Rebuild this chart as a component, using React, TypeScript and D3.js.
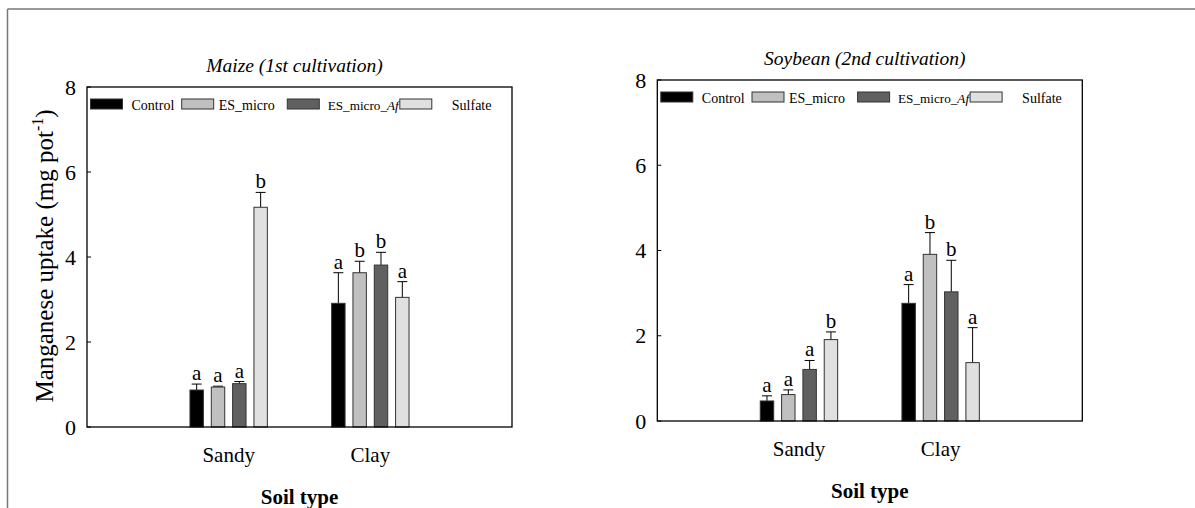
import React from "react";
import * as d3 from "d3";

// soil types and treatments
const soils = ["Sandy", "Clay"];
const treatments = ["Control", "ES_micro", "ES_micro_Af", "Sulfate"];
const fills = ["#000000", "#c0c0c0", "#606060", "#e0e0e0"];
const yTicks = [0, 2, 4, 6, 8];

// Maize (1st cultivation): mean and SE per soil, one entry per treatment
const maizeSandy = [0.87, 0.94, 1.02, 5.17];
const maizeSandyErr = [0.14, 0.02, 0.05, 0.35];
const maizeSandyLetters = ["a", "a", "a", "b"];
const maizeClay = [2.91, 3.63, 3.81, 3.05];
const maizeClayErr = [0.72, 0.27, 0.3, 0.37];
const maizeClayLetters = ["a", "b", "b", "a"];

// Soybean (2nd cultivation)
const soySandy = [0.47, 0.62, 1.21, 1.91];
const soySandyErr = [0.12, 0.11, 0.21, 0.18];
const soySandyLetters = ["a", "a", "a", "b"];
const soyClay = [2.76, 3.91, 3.03, 1.37];
const soyClayErr = [0.44, 0.51, 0.74, 0.82];
const soyClayLetters = ["a", "b", "b", "a"];

const serif = { fontFamily: "Liberation Serif, Times New Roman, serif" };

interface PanelProps {
  x0: number;
  y0: number;
  w: number;
  h: number;
  title: string;
  means: number[][];
  errs: number[][];
  letters: string[][];
  showYLabel?: boolean;
}

function Panel({ x0, y0, w, h, title, means, errs, letters, showYLabel }: PanelProps) {
  const x = d3.scalePoint<string>().domain(soils).range([0, w]).padding(1);
  const inner = d3.scaleBand<string>().domain(treatments).range([-38.7, 38.7]).paddingInner(0.37);
  const y = d3.scaleLinear().domain([0, 8]).range([h, 0]);

  // legend layout (offsets from plot left)
  const swatchX = [3.5, 94.7, 200.3, 312.8];
  const labelX = [44.5, 131.7, 240.7, 364.8];

  return (
    <g transform={`translate(${x0},${y0})`}>
      <text x={w / 2 - 5} y={-15} textAnchor="middle" fontStyle="italic" fontSize={19.5} style={serif}>
        {title}
      </text>

      {/* bars */}
      {soils.map((s, si) =>
        treatments.map((t, ti) => {
          const bx = (x(s) as number) + (inner(t) as number);
          const bw = inner.bandwidth();
          const m = means[si][ti];
          const top = m + errs[si][ti];
          const cx = bx + bw / 2;
          return (
            <g key={s + t}>
              <line x1={cx} x2={cx} y1={y(m)} y2={y(top)} stroke="#000" strokeWidth={1} />
              <line x1={cx - 5} x2={cx + 5} y1={y(top)} y2={y(top)} stroke="#000" strokeWidth={1} />
              <rect x={bx} y={y(m)} width={bw} height={h - y(m)} fill={fills[ti]} stroke="#333" strokeWidth={1} />
              <text x={cx} y={y(top) - 4} textAnchor="middle" fontSize={21} style={serif}>
                {letters[si][ti]}
              </text>
            </g>
          );
        })
      )}

      {/* frame */}
      <rect x={0} y={0} width={w} height={h} fill="none" stroke="#000" strokeWidth={1.3} />

      {/* y ticks */}
      {yTicks.map((t) => (
        <g key={t}>
          <line x1={0} x2={4} y1={y(t)} y2={y(t)} stroke="#000" strokeWidth={1} />
          <text x={-11} y={y(t)} dy="0.35em" textAnchor="end" fontSize={22} style={serif}>
            {t}
          </text>
        </g>
      ))}

      {/* x labels */}
      {soils.map((s) => (
        <text key={s} x={x(s)} y={h + 35} textAnchor="middle" fontSize={21} style={serif}>
          {s}
        </text>
      ))}
      <text x={w / 2} y={h + 77} textAnchor="middle" fontWeight="bold" fontSize={21} style={serif}>
        Soil type
      </text>

      {/* legend */}
      {treatments.map((t, i) => (
        <g key={t}>
          <rect x={swatchX[i]} y={12} width={32} height={10} fill={fills[i]} stroke="#333" strokeWidth={1} />
          {t === "ES_micro_Af" ? (
            <text x={labelX[i]} y={22.5} fontSize={13.2} style={serif}>
              ES_micro_<tspan fontStyle="italic">Af</tspan>
            </text>
          ) : (
            <text x={labelX[i]} y={22.5} fontSize={14} style={serif}>
              {t}
            </text>
          )}
        </g>
      ))}

      {showYLabel && (
        <text
          transform={`translate(${-34},${h / 2 - 1}) rotate(-90)`}
          textAnchor="middle"
          fontSize={25}
          style={serif}
        >
          Manganese uptake (mg pot
          <tspan fontSize={16} dy={-10}>-1</tspan>
          <tspan dy={10}>)</tspan>
        </text>
      )}
    </g>
  );
}

export default function App() {
  return (
    <div style={{ position: "fixed", left: 0, top: 0, ...serif }}>
      <svg width={1195} height={508} style={{ display: "block", background: "#fff", ...serif }}>
        <rect x={0} y={0} width={1195} height={508} fill="#fff" />
        {/* outer figure frame */}
        <line x1={7.5} x2={1195} y1={9} y2={9} stroke="#777" strokeWidth={1.5} />
        <line x1={7.5} x2={7.5} y1={9} y2={508} stroke="#777" strokeWidth={1.5} />

        <Panel
          x0={87}
          y0={87}
          w={425}
          h={340}
          title="Maize (1st cultivation)"
          means={[maizeSandy, maizeClay]}
          errs={[maizeSandyErr, maizeClayErr]}
          letters={[maizeSandyLetters, maizeClayLetters]}
          showYLabel
        />
        <Panel
          x0={657.3}
          y0={80}
          w={425}
          h={341}
          title="Soybean (2nd cultivation)"
          means={[soySandy, soyClay]}
          errs={[soySandyErr, soyClayErr]}
          letters={[soySandyLetters, soyClayLetters]}
        />
      </svg>
    </div>
  );
}
